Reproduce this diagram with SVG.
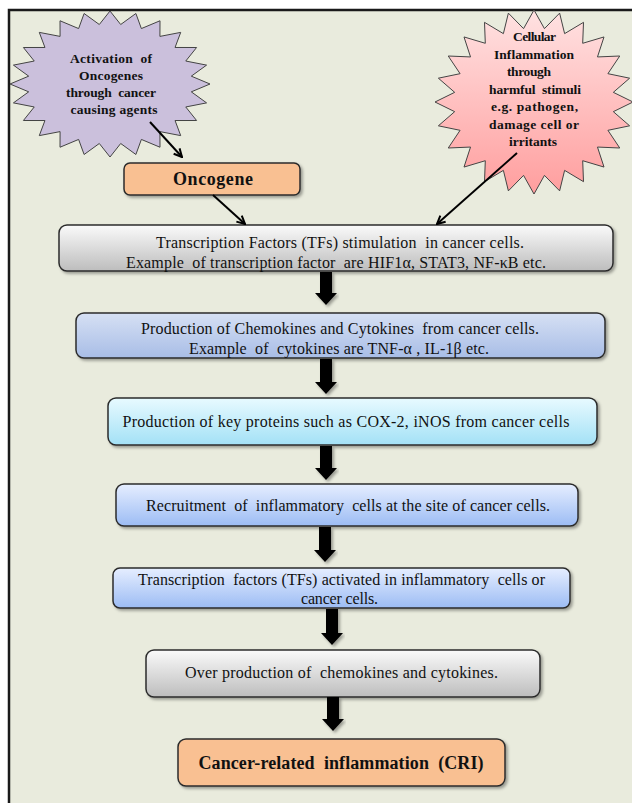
<svg xmlns="http://www.w3.org/2000/svg" width="632" height="803" viewBox="0 0 632 803">
<defs>
<linearGradient id="gGray" x1="0" y1="0" x2="0" y2="1"><stop offset="0" stop-color="#FAFAFA"/><stop offset="1" stop-color="#BDBDBD"/></linearGradient>
<linearGradient id="gLav" x1="0" y1="0" x2="0" y2="1"><stop offset="0" stop-color="#D6E0F4"/><stop offset="1" stop-color="#A8BDE6"/></linearGradient>
<linearGradient id="gCyan" x1="0" y1="0" x2="0" y2="1"><stop offset="0" stop-color="#E8FAFF"/><stop offset="1" stop-color="#A3E1F6"/></linearGradient>
<linearGradient id="gBlue" x1="0" y1="0" x2="0" y2="1"><stop offset="0" stop-color="#E6EEFF"/><stop offset="1" stop-color="#9CBCF4"/></linearGradient>
<linearGradient id="gPink" x1="0" y1="0" x2="0" y2="1"><stop offset="0" stop-color="#FFE2E2"/><stop offset="1" stop-color="#FF9E9E"/></linearGradient>
<filter id="sh" x="-5%" y="-20%" width="110%" height="150%"><feDropShadow dx="2" dy="2" stdDeviation="1.5" flood-color="#000" flood-opacity="0.35"/></filter>
<marker id="ah" markerWidth="10" markerHeight="10" refX="9" refY="5" orient="auto" markerUnits="userSpaceOnUse"><path d="M1,1 L9,5 L1,9" fill="none" stroke="#000" stroke-width="2"/></marker>
<style>
.box{stroke:#2b2b2b;stroke-width:1.5;filter:url(#sh)}
.star{stroke:#444;stroke-width:1}
.t{font-family:"Liberation Serif","Times New Roman",serif;font-size:16px;fill:#111;text-anchor:middle;white-space:pre}
.b{font-family:"Liberation Serif","Times New Roman",serif;font-weight:bold;fill:#111;text-anchor:middle;white-space:pre}
.s{font-size:13.5px}
.ln{stroke:#000;stroke-width:2;fill:none;marker-end:url(#ah)}
.blk{fill:#000;filter:url(#sh)}
</style>
</defs>
<rect x="0" y="0" width="632" height="803" fill="#FFFFFF"/>
<rect x="9" y="10" width="640" height="810" fill="#E9EBDD" stroke="#1a1a1a" stroke-width="2.5"/>

<g id="star-oncogenes">
<polygon class="star" fill="#CBC0DC" points="210,84 191.3,91.83 206.59,102.89 185.76,106.96 196.6,120.5 175.05,120.53 180.71,135.62 159.92,131.6 160,147.22 141.38,139.43 135.88,154.51 120.7,143.49 110,157 99.3,143.49 84.12,154.51 78.62,139.43 60,147.22 60.08,131.6 39.29,135.62 44.95,120.53 23.4,120.5 34.24,106.96 13.41,102.89 28.7,91.83 10,84 28.7,76.17 13.41,65.11 34.24,61.04 23.4,47.5 44.95,47.47 39.29,32.38 60.08,36.4 60,20.78 78.62,28.57 84.12,13.49 99.3,24.51 110,11 120.7,24.51 135.88,13.49 141.38,28.57 160,20.78 159.92,36.4 180.71,32.38 175.05,47.47 196.6,47.5 185.76,61.04 206.59,65.11 191.3,76.17"/>
<text class="b s" x="111" y="63" textLength="82" lengthAdjust="spacing">Activation  of</text>
<text class="b s" x="111" y="80" textLength="64" lengthAdjust="spacing">Oncogenes</text>
<text class="b s" x="111" y="97" textLength="90" lengthAdjust="spacing">through  cancer</text>
<text class="b s" x="114" y="114" textLength="87" lengthAdjust="spacing">causing agents</text>
</g>

<g id="star-inflammation">
<polygon class="star" fill="url(#gPink)" points="633,102 613.32,111.66 629.63,125.81 607.91,130.32 619.74,148 597.47,147.05 604,167.05 582.7,160.71 583.5,181.67 564.61,170.37 559.62,190.87 544.44,175.37 534,194 523.56,175.37 508.38,190.87 503.39,170.37 484.5,181.67 485.3,160.71 464,167.05 470.53,147.05 448.26,148 460.09,130.32 438.37,125.81 454.68,111.66 435,102 454.68,92.34 438.37,78.19 460.09,73.68 448.26,56 470.53,56.95 464,36.95 485.3,43.29 484.5,22.33 503.39,33.63 508.38,13.13 523.56,28.63 534,10 544.44,28.63 559.62,13.13 564.61,33.63 583.5,22.33 582.7,43.29 604,36.95 597.47,56.95 619.74,56 607.91,73.68 629.63,78.19 613.32,92.34"/>
<text class="b s" x="534.5" y="41" textLength="43" lengthAdjust="spacing">Cellular</text>
<text class="b s" x="534" y="59" textLength="80" lengthAdjust="spacing">Inflammation</text>
<text class="b s" x="529" y="76" textLength="44" lengthAdjust="spacing">through</text>
<text class="b s" x="535" y="94" textLength="92" lengthAdjust="spacing">harmful  stimuli</text>
<text class="b s" x="534.5" y="111" textLength="87" lengthAdjust="spacing">e.g. pathogen,</text>
<text class="b s" x="534" y="129" textLength="90" lengthAdjust="spacing">damage cell or</text>
<text class="b s" x="533" y="146" textLength="48" lengthAdjust="spacing">irritants</text>
</g>

<g id="oncogene">
<rect class="box" x="124" y="163" width="176" height="32" rx="6" fill="#F9C092"/>
<text class="b" font-size="18" x="213" y="185" textLength="80" lengthAdjust="spacing">Oncogene</text>
</g>

<g id="tf-stimulation">
<rect class="box" x="59" y="225" width="554" height="46" rx="8" fill="url(#gGray)"/>
<text class="t" x="340" y="248" textLength="368" lengthAdjust="spacing">Transcription Factors (TFs) stimulation  in cancer cells.</text>
<text class="t" x="336" y="268" textLength="420" lengthAdjust="spacing">Example  of transcription factor  are HIF1α, STAT3, NF-κB etc.</text>
</g>

<g id="chemokines">
<rect class="box" x="76" y="313" width="529" height="45" rx="8" fill="url(#gLav)"/>
<text class="t" x="340" y="334" textLength="398" lengthAdjust="spacing">Production of Chemokines and Cytokines  from cancer cells.</text>
<text class="t" x="339" y="354" textLength="300" lengthAdjust="spacing">Example  of  cytokines are TNF-α , IL-1β etc.</text>
</g>

<g id="key-proteins">
<rect class="box" x="108" y="398" width="489" height="47" rx="8" fill="url(#gCyan)"/>
<text class="t" x="346" y="427" textLength="447" lengthAdjust="spacing">Production of key proteins such as COX-2, iNOS from cancer cells</text>
</g>

<g id="recruitment">
<rect class="box" x="116" y="484" width="462" height="42" rx="8" fill="url(#gBlue)"/>
<text class="t" x="348" y="511" textLength="404" lengthAdjust="spacing">Recruitment  of  inflammatory  cells at the site of cancer cells.</text>
</g>

<g id="tf-activated">
<rect class="box" x="113" y="568" width="457" height="40" rx="7" fill="url(#gBlue)"/>
<text class="t" x="341.5" y="585" textLength="407" lengthAdjust="spacing">Transcription  factors (TFs) activated in inflammatory  cells or</text>
<text class="t" x="339.5" y="604" textLength="77" lengthAdjust="spacing">cancer cells.</text>
</g>

<g id="over-production">
<rect class="box" x="146" y="650" width="394" height="47" rx="8" fill="url(#gGray)"/>
<text class="t" x="341.5" y="678" textLength="313" lengthAdjust="spacing">Over production of  chemokines and cytokines.</text>
</g>

<g id="cri">
<rect class="box" x="178" y="739" width="327" height="47" rx="8" fill="#F9C092"/>
<text class="b" font-size="18" x="341" y="769" textLength="285" lengthAdjust="spacing">Cancer-related  inflammation  (CRI)</text>
</g>

<g id="connectors">
<line class="ln" x1="150" y1="122" x2="182" y2="157"/>
<line class="ln" x1="517" y1="153" x2="437" y2="224"/>
<line class="ln" x1="213" y1="195" x2="245" y2="224"/>
<polygon class="blk" points="320,272 332,272 332,293 337,293 326,305 315,293 320,293"/>
<polygon class="blk" points="320,359 332,359 332,382 337,382 326,394 315,382 320,382"/>
<polygon class="blk" points="320,446 332,446 332,468 337,468 326,480 315,468 320,468"/>
<polygon class="blk" points="319,527 331,527 331,550 336,550 325,562 314,550 319,550"/>
<polygon class="blk" points="326,609 338,609 338,633 343,633 332,645 321,633 326,633"/>
<polygon class="blk" points="327,697 339,697 339,719 344,719 333,731 322,719 327,719"/>
</g>
</svg>
